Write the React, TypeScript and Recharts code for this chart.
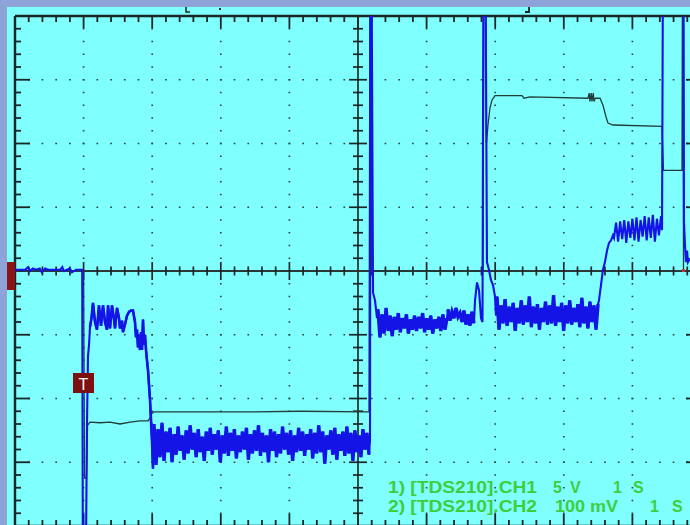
import React from 'react';
import { ComposedChart, Line, XAxis, YAxis, ReferenceLine } from 'recharts';

// Scope settings: CH1 5 V/div, CH2 100 mV/div, 1 s/div, 10 x 8 divisions
const timeDomain: [number, number] = [0, 10];
const ch1Domain: [number, number] = [-20, 20];
const ch2Domain: [number, number] = [-400, 400];

const labelLine1 = ['1) [TDS210].CH1', '5', 'V', '1', 'S'];
const labelLine2 = ['2) [TDS210].CH2', '100 mV', '1', 'S'];

// ---- CH1 (volts); ±25 = off screen ----
const ch1Lead: [number, number][] = [
  [0, 0.1], [0.15, 0.1], [0.19, 0.3], [0.22, 0.0], [0.26, 0.2], [0.31, 0.1], [0.36, 0.2], [0.39, -0.1],
  [0.44, 0.2], [0.48, 0.1], [0.54, 0.1], [0.66, 0.1], [0.69, 0.3], [0.71, 0.0], [0.76, 0.1], [0.8, 0.2],
  [0.83, -0.1], [0.89, 0.1], [0.95, 0.1], [0.98, 0.1],
  [0.99, -25], [1.03, -25], [1.05, -11.7], [1.064, -6.7], [1.079, -5.8], [1.093, -4.4], [1.115, -3.7],
  [1.137, -2.5], [1.166, -4.0], [1.195, -4.6], [1.224, -2.7], [1.254, -4.3], [1.283, -2.7], [1.312, -4.0],
  [1.341, -4.6], [1.356, -2.7], [1.385, -4.5], [1.414, -2.7], [1.443, -3.8], [1.458, -4.5], [1.487, -2.9],
  [1.516, -3.7], [1.531, -4.5], [1.56, -3.9], [1.574, -4.8], [1.603, -4.2], [1.633, -3.5], [1.662, -3.2],
  [1.691, -3.1], [1.72, -3.1], [1.749, -4.0], [1.764, -5.2], [1.778, -4.6], [1.793, -6.0], [1.808, -5.0],
  [1.822, -6.2], [1.837, -4.8], [1.851, -6.2], [1.866, -3.8], [1.88, -5.8], [1.895, -5.0], [1.91, -6.2],
  [1.924, -7.0], [1.939, -7.8], [1.968, -10.1], [1.997, -13.3], [2.012, -15.5],
];
const ch1BandB = [
  -12.0, -15.2, -12.4, -14.6, -11.9, -14.9, -12.6, -14.2, -12.3, -15.0,
  -12.8, -14.4, -12.2, -14.1, -12.9, -14.8, -12.5, -14.3, -12.1, -14.0,
  -12.7, -14.6, -12.4, -14.2, -13.0, -14.9, -12.6, -14.1, -12.3, -14.4,
  -12.8, -14.0, -12.5, -15.0, -12.9, -14.3, -12.2, -14.5, -12.7, -14.1,
  -12.4, -14.7, -12.9, -14.2, -12.6, -14.0, -12.3, -14.8, -12.8, -14.3,
  -12.5, -14.1, -12.1, -14.5, -12.7, -14.2, -12.9, -15.0, -12.4, -14.1,
  -12.6, -14.6, -12.8, -14.3, -12.2, -14.0, -12.7, -14.4, -12.5, -14.9,
  -12.9, -14.2, -12.3, -14.1, -12.6, -14.5, -12.8, -14.0, -12.4, -14.7,
  -12.7, -14.3, -12.1, -14.2, -12.6, -15.1, -12.9, -14.0, -12.5, -14.4,
  -12.3, -14.8, -12.8, -14.1, -12.6, -14.5, -12.2, -14.3, -12.7, -14.9,
  -12.5, -14.2, -12.9, -14.6, -12.4, -14.0, -12.7, -14.4,
];
const ch1Rise1: [number, number][] = [
  [5.175, -13.3], [5.182, 25], [5.197, 25], [5.219, -1.7], [5.248, -2.3], [5.277, -3.7],
];
const ch1BandC1 = [
  -3.0, -5.2, -3.4, -4.9, -2.9, -4.7, -3.5, -5.1, -3.6, -4.6, -3.3, -4.8, -3.7, -4.5, -3.4, -4.9, -3.8,
  -4.6, -3.5, -4.7, -3.6, -4.5, -3.3, -4.8, -3.7, -4.6, -3.5, -4.9, -3.8, -4.5, -3.6, -4.7, -3.4, -4.6, -3.7,
];
const ch1BandC1b = [-3.0, -3.9, -3.2, -3.7, -2.9, -3.6, -3.3, -4.0, -3.1, -4.2, -3.4, -4.3, -3.2, -4.1];
const ch1Spike2: [number, number][] = [
  [6.706, -2.3], [6.735, -0.9], [6.764, -1.5], [6.793, -3.7], [6.815, -4.0], [6.829, 25], [6.858, 25],
  [6.88, 0.7], [6.909, 0.1], [6.938, -0.7], [6.968, -1.1], [6.997, -2.0], [7.011, -3.5],
];
const ch1BandC2 = [
  -2.0, -4.6, -2.7, -4.1, -2.2, -4.3, -2.8, -4.0, -2.5, -4.7,
  -2.9, -4.1, -2.3, -4.2, -2.7, -4.0, -2.0, -4.4, -2.8, -4.1,
  -2.6, -4.6, -2.9, -4.0, -2.4, -4.2, -2.7, -4.1, -1.9, -4.3,
  -2.8, -4.0, -2.5, -4.7, -2.7, -4.1, -2.3, -4.2, -2.9, -4.0,
  -2.6, -4.4, -2.1, -4.1, -2.8, -4.5, -2.4, -4.0, -2.7, -4.6, -2.6,
];
const ch1Rise3: [number, number][] = [
  [8.513, -2.3], [8.542, -1.1], [8.571, 0.1], [8.6, 0.7], [8.63, 1.6], [8.659, 2.2], [8.688, 2.4], [8.717, 2.8],
];
const ch1BandD = [2.6, 3.8, 2.3, 3.9, 2.5, 4.0, 2.2, 3.9, 2.6, 4.1, 2.4, 4.2, 2.3, 4.0, 2.7, 4.3, 2.4, 4.2, 2.6, 4.4, 2.3, 4.1, 2.8, 4.3];
const ch1Tail: [number, number][] = [
  [9.432, 3.2], [9.446, 25], [9.745, 25], [9.752, 3.8], [9.767, 2.0], [9.781, 0.7], [9.796, 1.6], [9.81, 0.7], [9.84, 1.0],
];

// ---- CH2 (millivolts); ±500 = off screen ----
const ch2Trace: [number, number][] = [
  [0, 0], [1.0, 0], [1.014, -325], [1.042, -325], [1.057, -242], [1.093, -237], [1.239, -238], [1.385, -237],
  [1.531, -240], [1.676, -237], [1.822, -235], [1.939, -235], [1.968, -231], [1.997, -223], [2.026, -221],
  [3.426, -221], [4.155, -220], [5.16, -221], [5.175, 500], [5.19, 500], [5.197, 0], [6.822, 0], [6.836, 500],
  [6.858, 500], [6.873, 201], [6.895, 229], [6.924, 256], [6.953, 268], [6.997, 275], [7.391, 275], [7.42, 271],
  [7.507, 273], [8.353, 271], [8.37, 279], [8.38, 266], [8.4, 279], [8.41, 266], [8.43, 279], [8.44, 266],
  [8.46, 271], [8.528, 271], [8.571, 260], [8.615, 242], [8.644, 232], [8.717, 229], [9.432, 227], [9.453, 158],
  [9.723, 158], [9.73, 500], [9.738, 500], [9.745, 0], [9.84, 0],
];

type Pt = { t: number; v: number };
const pts = (a: [number, number][]): Pt[] => a.map(([t, v]) => ({ t, v }));
const band = (t0: number, t1: number, vals: number[]): Pt[] =>
  vals.map((v, i) => ({ t: t0 + ((t1 - t0) * i) / (vals.length - 1), v }));

const bandB = band(2.026, 5.16, ch1BandB);
const bandC1 = band(5.291, 6.297, ch1BandC1);
const bandC1b = band(6.312, 6.69, ch1BandC1b);
const bandC2 = band(7.026, 8.499, ch1BandC2);
const bandD = band(8.732, 9.417, ch1BandD);
const plateau = pts(ch1Lead.slice(25));

const ch1Data: Pt[] = [
  ...pts(ch1Lead), ...bandB, ...pts(ch1Rise1), ...bandC1, ...bandC1b,
  ...pts(ch1Spike2), ...bandC2, ...pts(ch1Rise3), ...bandD, ...pts(ch1Tail),
];
const ch1Noise: Pt[][] = [bandB, bandC1, bandC1b, bandC2, plateau];
const ch2Data: Pt[] = pts(ch2Trace);

// graticule subdivisions (5 per division)
const minorTimes = Array.from({ length: 49 }, (_, i) => i + 1);
const minorVolts = Array.from({ length: 39 }, (_, i) => i + 1);
const majorTimes = [1, 2, 3, 4, 6, 7, 8, 9];
const majorVolts = [-15, -10, -5, 5, 10, 15];

const PLOT_W = 686;
const PLOT_H = 510;
const PX_T = 10 / PLOT_W;
const PX_V = 40 / PLOT_H;
const AX = '#1b2626';
const DOT = '#2c4646';
const BLUE = '#1414e6';

export default function App() {
  const refs: React.ReactNode[] = [];
  majorTimes.forEach((t) =>
    refs.push(
      <ReferenceLine key={'gx' + t} yAxisId="v" x={t} stroke={DOT} strokeWidth={1.7}
        strokeDasharray={`1.7 ${PLOT_H / 40 - 1.7}`} strokeDashoffset={0.85} />
    )
  );
  majorVolts.forEach((v) =>
    refs.push(
      <ReferenceLine key={'gy' + v} yAxisId="v" y={v} stroke={DOT} strokeWidth={1.7}
        strokeDasharray={`1.7 ${PLOT_W / 50 - 1.7}`} strokeDashoffset={0.85} />
    )
  );
  refs.push(<ReferenceLine key="cx" yAxisId="v" x={5} stroke="#2a3838" strokeWidth={1.8} />);
  refs.push(<ReferenceLine key="cy" yAxisId="v" y={0} stroke="#2a3838" strokeWidth={1.8} />);
  refs.push(<ReferenceLine key="b1" yAxisId="v" x={0} stroke={AX} strokeWidth={2.4} />);
  refs.push(<ReferenceLine key="b2" yAxisId="v" x={10} stroke={AX} strokeWidth={2.4} />);
  refs.push(<ReferenceLine key="b3" yAxisId="v" y={20} stroke={AX} strokeWidth={2.4} />);
  refs.push(<ReferenceLine key="b4" yAxisId="v" y={-20} stroke={AX} strokeWidth={2.4} />);

  minorTimes.forEach((i) => {
    const t = i * 0.2;
    const major = i % 5 === 0;
    const L = (major ? 12 : 6) * PX_V;
    const c = (major ? 9 : 4.5) * PX_V;
    refs.push(<ReferenceLine key={'tt' + i} yAxisId="v" stroke={AX} strokeWidth={1.8}
      segment={[{ x: t, y: 20 }, { x: t, y: 20 - L }]} />);
    refs.push(<ReferenceLine key={'tb' + i} yAxisId="v" stroke={AX} strokeWidth={1.8}
      segment={[{ x: t, y: -20 }, { x: t, y: -20 + L }]} />);
    if (i !== 25)
      refs.push(<ReferenceLine key={'tc' + i} yAxisId="v" stroke={AX} strokeWidth={1.7}
        segment={[{ x: t, y: -c }, { x: t, y: c }]} />);
  });
  minorVolts.forEach((i) => {
    const v = -20 + i;
    const major = i % 5 === 0;
    const L = (major ? 15 : 6) * PX_T;
    const c = (major ? 9 : 5) * PX_T;
    refs.push(<ReferenceLine key={'vl' + i} yAxisId="v" stroke={AX} strokeWidth={1.8}
      segment={[{ x: 0, y: v }, { x: L, y: v }]} />);
    refs.push(<ReferenceLine key={'vr' + i} yAxisId="v" stroke={AX} strokeWidth={1.8}
      segment={[{ x: 10 - L, y: v }, { x: 10, y: v }]} />);
    if (i !== 20)
      refs.push(<ReferenceLine key={'vc' + i} yAxisId="v" stroke={AX} strokeWidth={1.7}
        segment={[{ x: 5 - c, y: v }, { x: 5 + c, y: v }]} />);
  });

  const green = '#3ccf3c';
  const txt = { fontFamily: 'Liberation Sans, Arial, sans-serif', fontWeight: 700, fontSize: 16, fill: green } as const;

  return (
    <div style={{ position: 'fixed', left: 0, top: 0, width: 690, height: 525, overflow: 'hidden', background: '#8ea3d8' }}>
      <div style={{ position: 'absolute', left: 7, top: 7, width: 720, height: 540, background: '#80ffff' }} />
      <div style={{ position: 'absolute', left: 0, top: 0 }}>
        <ComposedChart width={710} height={540} margin={{ top: 16, right: 9, bottom: 14, left: 15 }}>
          <XAxis type="number" dataKey="t" domain={timeDomain} hide allowDataOverflow />
          <YAxis yAxisId="v" type="number" domain={ch1Domain} hide allowDataOverflow />
          <YAxis yAxisId="mv" type="number" domain={ch2Domain} hide allowDataOverflow />
          {refs}
          <Line yAxisId="mv" data={ch2Data} dataKey="v" type="linear" stroke="#213d3a" strokeWidth={1.3}
            dot={false} isAnimationActive={false} />
          <Line yAxisId="v" data={ch1Data} dataKey="v" type="linear" stroke={BLUE} strokeWidth={2.1}
            dot={false} isAnimationActive={false} />
          {ch1Noise.map((d, i) => (
            <Line key={'n' + i} yAxisId="v" data={d} dataKey="v" type="linear" stroke={BLUE}
              strokeWidth={i === 4 ? 2.6 : 3.4} dot={false} isAnimationActive={false} />
          ))}
        </ComposedChart>
      </div>
      <svg width={690} height={525} style={{ position: 'absolute', left: 0, top: 0, pointerEvents: 'none' }}>
        <rect x={7} y={262} width={8} height={28} fill="#8b1515" />
        <rect x={73} y={373} width={21} height={20} fill="#7d1010" />
        <text x={83.5} y={390} textAnchor="middle" fontFamily="Liberation Sans, Arial" fontSize={16} fill="#ffffff">T</text>
        <path d="M186 7 V12 H190" stroke="#222" strokeWidth={1.5} fill="none" />
        <rect x={219} y={8} width={2} height={2} fill="#222" />
        <path d="M529 7 V12 H525" stroke="#222" strokeWidth={1.8} fill="none" />
        <rect x={682} y={269} width={3} height={3} fill="#d03030" />
        <text x={388} y={493} {...txt} textLength={149} lengthAdjust="spacingAndGlyphs">{labelLine1[0]}</text>
        <text x={553} y={493} {...txt}>{labelLine1[1]}</text>
        <text x={570} y={493} {...txt}>{labelLine1[2]}</text>
        <text x={613} y={493} {...txt}>{labelLine1[3]}</text>
        <text x={633} y={493} {...txt}>{labelLine1[4]}</text>
        <text x={388} y={512} {...txt} textLength={149} lengthAdjust="spacingAndGlyphs">{labelLine2[0]}</text>
        <text x={555} y={512} {...txt} textLength={63} lengthAdjust="spacingAndGlyphs">{labelLine2[1]}</text>
        <text x={650} y={512} {...txt}>{labelLine2[2]}</text>
        <text x={672} y={512} {...txt}>{labelLine2[3]}</text>
      </svg>
    </div>
  );
}
